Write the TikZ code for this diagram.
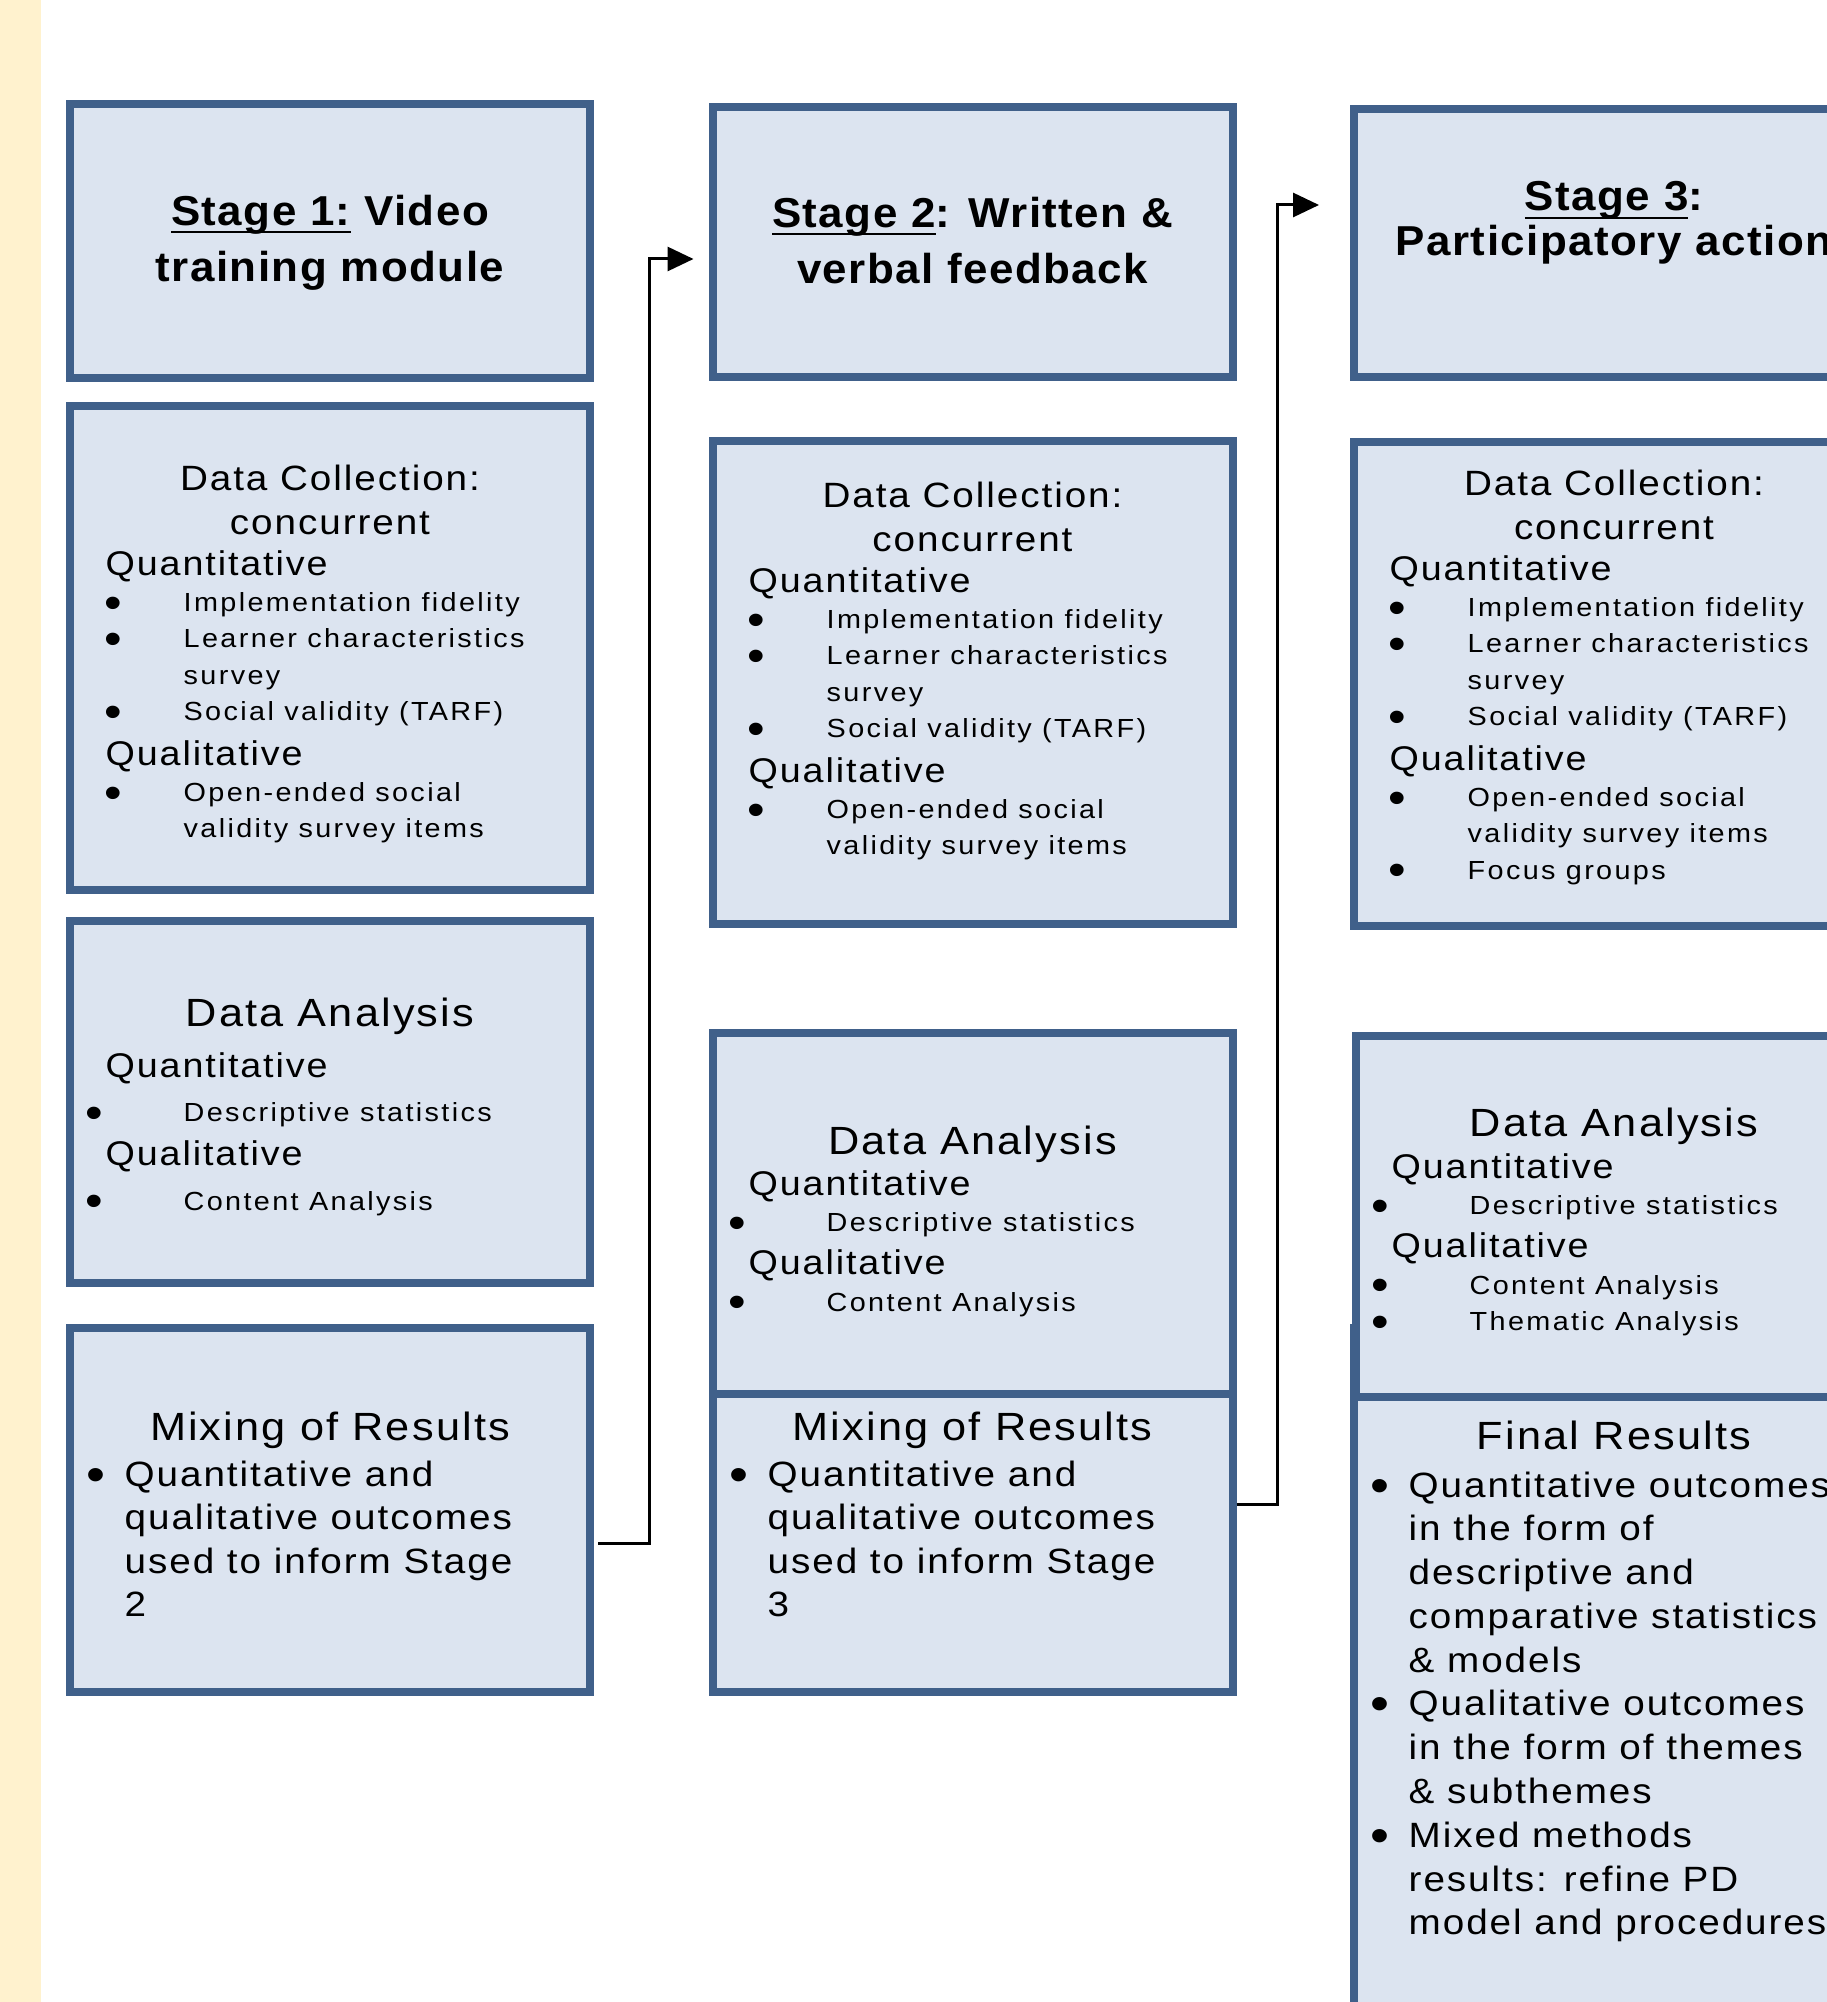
\documentclass[tikz,border=0pt]{standalone}
\usepackage{fontspec}
\setmainfont{Liberation Sans}
\newfontfamily\ttlfont{Liberation Sans}[FakeStretch=1.05, LetterSpace=3.5]
\newfontfamily\hdfont{Liberation Sans}[FakeStretch=1.1, LetterSpace=5.5]
\newfontfamily\smfont{Liberation Sans}[FakeStretch=1.1, LetterSpace=9]
\usetikzlibrary{arrows.meta}

\definecolor{boxline}{RGB}{64,96,138}
\definecolor{boxfill}{RGB}{220,228,240}
\definecolor{strip}{RGB}{255,242,206}

% underlined stage label
\newcommand{\stg}[1]{\setbox0\hbox{#1}\rlap{\rule[-2.3pt]{\wd0}{0.7pt}}\box0\relax}
% bullets: small items / large items
\newcommand{\smb}[1]{\makebox[7.8mm][l]{\hspace*{#1}\raisebox{-1.9pt}{\fontsize{13}{13}\selectfont\textbullet}}}
\newcommand{\bigb}{\makebox[3.6mm][l]{\hspace*{-0.25mm}\raisebox{-1.4pt}{\fontsize{14}{14}\selectfont\textbullet}}}
\newcommand{\subsz}{\fontsize{9.75}{10.3}\hdfont}

\begin{document}
\begin{tikzpicture}[x=0.1mm, y=-0.1mm,
  box/.style = {draw=boxline, fill=boxfill, line width=0.8mm, minimum width=52mm, inner sep=0},
  ttl/.style = {font=\ttlfont\bfseries\fontsize{11.9}{16.2}\selectfont, align=center, inner sep=0, anchor=north},
  dch/.style = {font=\hdfont\fontsize{10}{12.5}\selectfont, align=center, inner sep=0, anchor=north},
  bighd/.style = {font=\hdfont\fontsize{11.2}{13}\selectfont, inner sep=0, anchor=north},
  itms/.style = {font=\smfont\fontsize{7.45}{10.3}\selectfont, align=left, inner sep=0, anchor=north west},
  itmb/.style = {font=\hdfont\fontsize{10}{12.4}\selectfont, align=left, inner sep=0, anchor=north west},
  link/.style = {line width=0.3mm, -{Triangle[length=2.6mm, width=2.4mm]}}]
\useasboundingbox (0,0) rectangle (1826,2002);
\fill[strip] (0,0) rectangle (41,2002);

% Stage 1
\node[box, minimum height=27.4mm] (s1) at (330,241) {};
\node[ttl] (t1) at (330,194) {\stg{Stage 1:} Video\\training module};
\node[box, minimum height=48.4mm] (dc1) at (330,648) {};
\node[dch] (dch1) at (330,464) {Data Collection:\\concurrent};
\node[itms] (dcb1) at (105,550) {{\subsz Quantitative}\\
  \smb{-0.1mm}Implementation fidelity\\
  \smb{-0.1mm}Learner characteristics\\
  \hspace*{7.8mm}survey\\
  \smb{-0.1mm}Social validity (TARF)\\[0.9mm]
  {\subsz Qualitative}\\
  \smb{-0.1mm}Open-ended social\\
  \hspace*{7.8mm}validity survey items};
\node[box, minimum height=36.2mm] (da1) at (330,1102) {};
\node[bighd] (dah1) at (330,997) {Data Analysis};
\node[itms] (dab1) at (105,1052) {{\subsz Quantitative}\\[0.8mm]
  \smb{-2.05mm}Descriptive statistics\\[0.8mm]
  {\subsz Qualitative}\\[0.8mm]
  \smb{-2.05mm}Content Analysis};
\node[box, minimum height=36.4mm] (mx1) at (330,1510) {};
\node[bighd] (mxh1) at (330,1411) {Mixing of Results};
\node[itmb] (mxb1) at (88,1460) {\bigb Quantitative and\\
  \hspace*{3.6mm}qualitative outcomes\\
  \hspace*{3.6mm}used to inform Stage\\
  \hspace*{3.6mm}2};

% Stage 2
\node[box, minimum height=27mm] (s2) at (972.5,242) {};
\node[ttl] (t2) at (972.5,196) {\stg{Stage 2}: Written \&\\verbal feedback};
\node[box, minimum height=48.3mm] (dc2) at (972.5,682.5) {};
\node[dch] (dch2) at (972.5,481) {Data Collection:\\concurrent};
\node[itms] (dcb2) at (748,567) {{\subsz Quantitative}\\
  \smb{-0.1mm}Implementation fidelity\\
  \smb{-0.1mm}Learner characteristics\\
  \hspace*{7.8mm}survey\\
  \smb{-0.1mm}Social validity (TARF)\\[0.9mm]
  {\subsz Qualitative}\\
  \smb{-0.1mm}Open-ended social\\
  \hspace*{7.8mm}validity survey items};
\node[box, minimum height=36.4mm] (mx2) at (972.5,1510) {};
\node[box, minimum height=36.1mm] (da2) at (972.5,1213.5) {};
\node[bighd] (dah2) at (972.5,1125) {Data Analysis};
\node[itms] (dab2) at (748,1170) {{\subsz Quantitative}\\
  \smb{-2.05mm}Descriptive statistics\\[0.7mm]
  {\subsz Qualitative}\\
  \smb{-2.05mm}Content Analysis};
\node[bighd] (mxh2) at (972.5,1411) {Mixing of Results};
\node[itmb] (mxb2) at (731,1460) {\bigb Quantitative and\\
  \hspace*{3.6mm}qualitative outcomes\\
  \hspace*{3.6mm}used to inform Stage\\
  \hspace*{3.6mm}3};

% Stage 3
\node[box, minimum height=26.8mm] (s3) at (1614,243) {};
\node[ttl, font=\ttlfont\bfseries\fontsize{11.9}{12.8}\selectfont] (t3) at (1614,181) {\stg{Stage 3}:\\Participatory action};
\node[box, minimum height=48.4mm] (dc3) at (1614,684) {};
\node[dch] (dch3) at (1614,469) {Data Collection:\\concurrent};
\node[itms] (dcb3) at (1389,555) {{\subsz Quantitative}\\
  \smb{-0.1mm}Implementation fidelity\\
  \smb{-0.1mm}Learner characteristics\\
  \hspace*{7.8mm}survey\\
  \smb{-0.1mm}Social validity (TARF)\\[0.9mm]
  {\subsz Qualitative}\\
  \smb{-0.1mm}Open-ended social\\
  \hspace*{7.8mm}validity survey items\\
  \smb{-0.1mm}Focus groups};
\node[box, minimum height=76.8mm] (fr3) at (1614,1712) {};
\node[box, minimum height=36.1mm] (da3) at (1616,1216.5) {};
\node[bighd] (dah3) at (1614,1107) {Data Analysis};
\node[itms] (dab3) at (1391,1153) {{\subsz Quantitative}\\
  \smb{-2.05mm}Descriptive statistics\\[0.7mm]
  {\subsz Qualitative}\\
  \smb{-2.05mm}Content Analysis\\
  \smb{-2.05mm}Thematic Analysis};
\node[bighd] (frh3) at (1614,1420) {Final Results};
\node[itmb, font=\hdfont\fontsize{10}{12.45}\selectfont] (frb3) at (1372,1471) {\bigb Quantitative outcomes\\
  \hspace*{3.6mm}in the form of\\
  \hspace*{3.6mm}descriptive and\\
  \hspace*{3.6mm}comparative statistics\\
  \hspace*{3.6mm}\& models\\
  \bigb Qualitative outcomes\\
  \hspace*{3.6mm}in the form of themes\\
  \hspace*{3.6mm}\& subthemes\\
  \bigb Mixed methods\\
  \hspace*{3.6mm}results: refine PD\\
  \hspace*{3.6mm}model and procedures};

% elbow links between stages
\coordinate (b1) at (649,1543);
\coordinate (c1) at (649,259);
\draw[link, shorten <=0.4mm, shorten >=1.5mm] (mx1.east |- b1) -- (b1) -- (c1) -- (s2.west |- c1);
\coordinate (b2) at (1277,1504);
\coordinate (c2) at (1277,205);
\draw[link, shorten >=3.1mm] (mx2.east |- b2) -- (b2) -- (c2) -- (s3.west |- c2);
\end{tikzpicture}
\end{document}
